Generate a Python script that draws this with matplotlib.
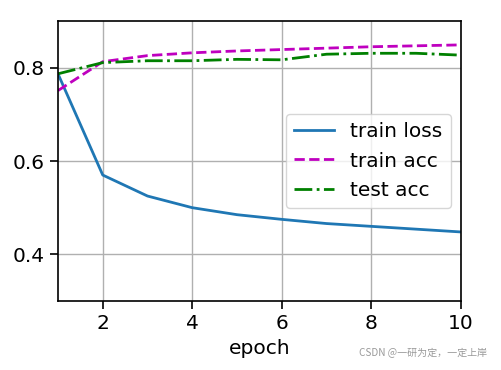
import matplotlib
matplotlib.use("Agg")
import matplotlib.pyplot as plt

epochs = [1, 2, 3, 4, 5, 6, 7, 8, 9, 10]
train_loss = [0.787, 0.570, 0.525, 0.500, 0.485, 0.475, 0.466, 0.460, 0.454, 0.448]
train_acc = [0.751, 0.813, 0.826, 0.832, 0.836, 0.839, 0.842, 0.845, 0.847, 0.849]
test_acc = [0.787, 0.811, 0.815, 0.815, 0.818, 0.817, 0.829, 0.831, 0.831, 0.827]

plt.rcParams['font.size'] = 14.5

fig = plt.figure(figsize=(5.02, 3.7), dpi=100)
ax = fig.add_axes([0.1155, 0.1865, 0.8025, 0.7565])

ax.plot(epochs, train_loss, '-', color='#1f77b4', lw=2, label='train loss')
ax.plot(epochs, train_acc, '--', color='m', lw=2, label='train acc')
ax.plot(epochs, test_acc, '-.', color='g', lw=2, label='test acc')

ax.set_xlim(1, 10)
ax.set_ylim(0.3, 0.9)
ax.set_xticks([2, 4, 6, 8, 10])
ax.set_yticks([0.4, 0.6, 0.8])
ax.tick_params(length=6, width=1.2)
for s in ax.spines.values():
    s.set_linewidth(1.2)
ax.set_xlabel('epoch')
ax.grid(True, color='#b0b0b0', lw=1)
ax.legend(loc='center right')

fig.text(0.97, 0.045, 'CSDN @一研为定，一定上岸', ha='right', va='center',
         fontsize=7.2, color='#999999',
         family=['Noto Sans CJK SC', 'DejaVu Sans'])

fig.savefig('out.png', dpi=100)
